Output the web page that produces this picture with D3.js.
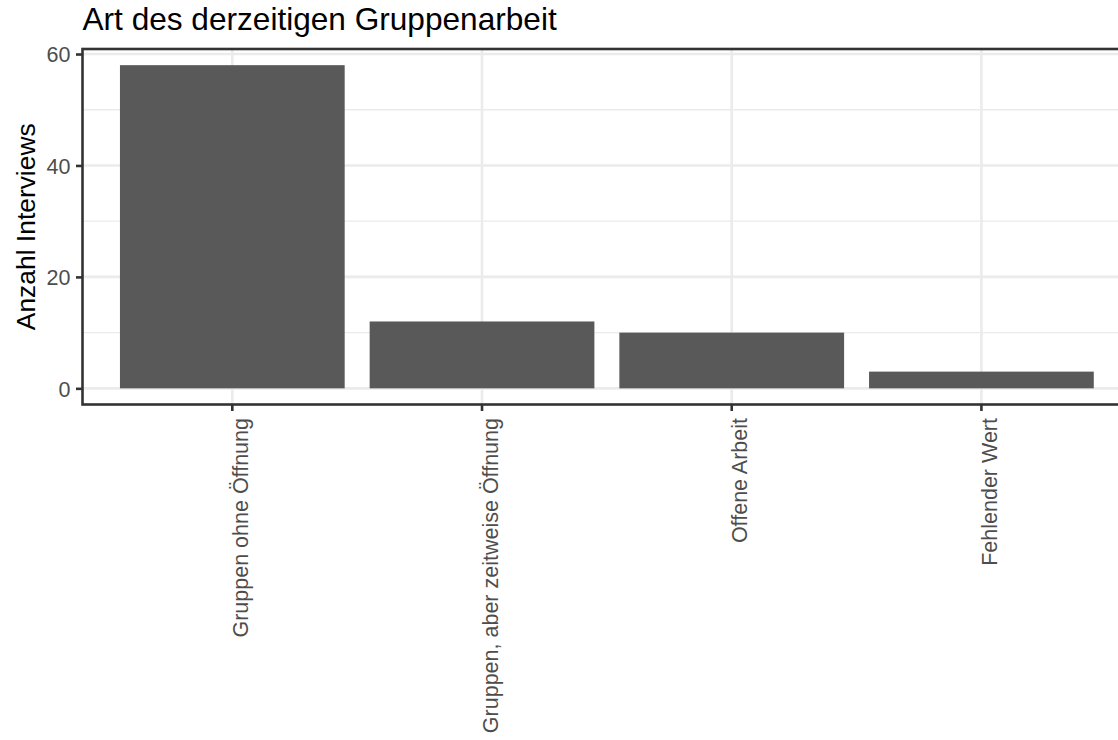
<!DOCTYPE html>
<html>
<head>
<meta charset="utf-8">
<script src="https://cdn.jsdelivr.net/npm/d3@7"></script>
<style>
  body { margin: 0; background: #fff; }
  svg { display: block; font-family: "Liberation Sans", Arial, sans-serif; }
</style>
</head>
<body>
<div class="chart"></div>
<script>
const categories = ['Gruppen ohne Öffnung', 'Gruppen, aber zeitweise Öffnung', 'Offene Arbeit', 'Fehlender Wert']
const counts = [58, 12, 10, 3]
const yTicks = [0, 20, 40, 60]
const yMinorTicks = [10, 30, 50]
const chartTitle = 'Art des derzeitigen Gruppenarbeit'
const yTitle = 'Anzahl Interviews'

document.addEventListener('DOMContentLoaded', start)

function start () {
  const width = 1118
  const height = 740
  // panel is wider than the window, right border gets cut off like in the original
  const panel = { left: 82.5, top: 49, right: 82.5 + 4.2 * 249.7, bottom: 404.5 }

  const svg = d3.select('.chart')
    .append('svg')
    .attr('width', width)
    .attr('height', height)

  const x = d3.scaleBand()
    .domain(categories)
    .range([panel.left, panel.right])
    .paddingInner(0.1)
    .paddingOuter(0.15)

  const maxVal = d3.max(counts)
  const pad = maxVal * 0.05
  const y = d3.scaleLinear()
    .domain([-pad, maxVal + pad])
    .range([panel.bottom, panel.top])

  drawGrid(svg, x, y, panel)
  drawBars(svg, x, y)
  drawAxes(svg, x, y, panel)
  drawTitles(svg, panel)
}

function drawGrid (svg, x, y, panel) {
  const g = svg.append('g').attr('class', 'grid')
  g.selectAll('.minor')
    .data(yMinorTicks)
    .enter().append('line')
    .attr('x1', panel.left).attr('x2', panel.right)
    .attr('y1', d => y(d)).attr('y2', d => y(d))
    .attr('stroke', '#ebebeb')
    .attr('stroke-width', 1.3)
  g.selectAll('.major-y')
    .data(yTicks)
    .enter().append('line')
    .attr('x1', panel.left).attr('x2', panel.right)
    .attr('y1', d => y(d)).attr('y2', d => y(d))
    .attr('stroke', '#ebebeb')
    .attr('stroke-width', 2.6)
  g.selectAll('.major-x')
    .data(categories)
    .enter().append('line')
    .attr('x1', d => x(d) + x.bandwidth() / 2).attr('x2', d => x(d) + x.bandwidth() / 2)
    .attr('y1', panel.top).attr('y2', panel.bottom)
    .attr('stroke', '#ebebeb')
    .attr('stroke-width', 2.6)
}

function drawBars (svg, x, y) {
  svg.append('g')
    .selectAll('.bar')
    .data(counts)
    .enter().append('rect')
    .attr('class', 'bar')
    .attr('x', (d, i) => x(categories[i]))
    .attr('width', x.bandwidth())
    .attr('y', d => y(d))
    .attr('height', d => y(0) - y(d))
    .attr('fill', '#595959')
}

function drawAxes (svg, x, y, panel) {
  // panel border
  svg.append('rect')
    .attr('x', panel.left).attr('y', panel.top)
    .attr('width', panel.right - panel.left)
    .attr('height', panel.bottom - panel.top)
    .attr('fill', 'none')
    .attr('stroke', '#333333')
    .attr('stroke-width', 2.6)

  const yAxis = svg.append('g')
    .attr('transform', `translate(${panel.left},0)`)
    .call(d3.axisLeft(y).tickValues(yTicks).tickSize(6.5).tickPadding(5.5))
  yAxis.select('.domain').remove()
  yAxis.selectAll('line').attr('stroke', '#333333').attr('stroke-width', 2.6)
  yAxis.selectAll('text')
    .attr('fill', '#4d4d4d')
    .style('font-size', '21.5px')
    .attr('dy', '0.36em')

  const xAxis = svg.append('g')
    .attr('transform', `translate(0,${panel.bottom})`)
    .call(d3.axisBottom(x).tickSize(6.5).tickPadding(0))
  xAxis.select('.domain').remove()
  xAxis.selectAll('line').attr('stroke', '#333333').attr('stroke-width', 2.6)
  xAxis.selectAll('text')
    .attr('fill', '#4d4d4d')
    .style('font-size', '21.5px')
    .attr('text-anchor', 'end')
    .attr('y', 0)
    .attr('dy', 0)
    .attr('transform', 'translate(15.5,13.5) rotate(-90)')
}

function drawTitles (svg, panel) {
  svg.append('text')
    .attr('x', panel.left)
    .attr('y', 29.5)
    .attr('fill', '#000')
    .style('font-size', '31.6px')
    .text(chartTitle)

  svg.append('text')
    .attr('transform', `translate(34.5,${(panel.top + panel.bottom) / 2}) rotate(-90)`)
    .attr('text-anchor', 'middle')
    .attr('fill', '#000')
    .style('font-size', '26.4px')
    .text(yTitle)
}
</script>
</body>
</html>
